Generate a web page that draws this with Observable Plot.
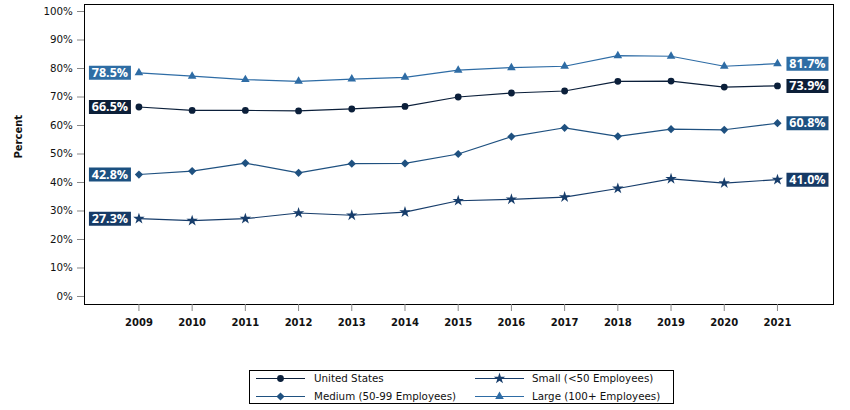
<!DOCTYPE html>
<html>
<head>
<meta charset="utf-8">
<script src="https://cdn.jsdelivr.net/npm/d3@7"></script>
<script src="https://cdn.jsdelivr.net/npm/@observablehq/plot@0.6"></script>
<style>
  body { margin: 0; background: #fff; }
  #wrap { position: relative; width: 850px; height: 410px; font-family: "DejaVu Sans", sans-serif; }
  #legend { position: absolute; left: 249px; top: 370px; width: 425px; height: 34px; border: 1px solid #000; box-sizing: border-box; }
  .item { position: absolute; font-size: 10.3px; color: #111; white-space: nowrap; }
  .item svg { position: absolute; left: 0; top: 0; }
  .item span { position: absolute; top: 0; line-height: 12px; }
</style>
</head>
<body>
<div id="wrap"><div id="chart"></div><div id="legend"></div></div>
<script>
const years = [2009, 2010, 2011, 2012, 2013, 2014, 2015, 2016, 2017, 2018, 2019, 2020, 2021];
const unitedStates = [66.5, 65.3, 65.3, 65.1, 65.8, 66.7, 70.0, 71.4, 72.1, 75.5, 75.6, 73.5, 73.9];
const small = [27.3, 26.6, 27.3, 29.3, 28.5, 29.6, 33.6, 34.1, 34.9, 37.9, 41.3, 39.8, 41.0];
const medium = [42.8, 44.0, 46.8, 43.4, 46.6, 46.7, 50.0, 56.1, 59.2, 56.2, 58.7, 58.5, 60.8];
const large = [78.5, 77.3, 76.1, 75.5, 76.3, 76.9, 79.4, 80.3, 80.8, 84.5, 84.3, 80.8, 81.7];
const seriesNames = ["United States", "Small (<50 Employees)", "Medium (50-99 Employees)", "Large (100+ Employees)"];
const yTicks = [0, 10, 20, 30, 40, 50, 60, 70, 80, 90, 100];

const seriesValues = [unitedStates, small, medium, large];
const colors = ["#0b1f3a", "#173d6b", "#1f5180", "#2e6ca5"];
const labelColors = ["#0c1f38", "#163a66", "#1b5080", "#2e6da4"];
const symbols = ["circle", "star", "diamond2", "triangle"];
const radii = [3.4, 3.6, 3.7, 3.2];

const rows = [];
seriesNames.forEach((s, i) => years.forEach((y, j) => rows.push({series: s, year: y, value: seriesValues[i][j], k: i})));
const first = rows.filter(d => d.year === years[0]);
const last = rows.filter(d => d.year === years[years.length - 1]);

const labelBox = {draw(ctx) { ctx.rect(-21, -7, 42, 14); }};
const fmt = v => v.toFixed(1) + "%";

const marks = [
  Plot.frame({stroke: "#000", strokeWidth: 1}),
  Plot.axisY({ticks: yTicks, tickFormat: d => d + "%", tickSize: 7, tickPadding: 4.6, stroke: "#888", fontSize: 10.3, fill: "#111", label: null}),
  Plot.axisX({ticks: years, tickFormat: d => String(d), tickSize: 7, tickPadding: 7, stroke: "#888", fontSize: 10, fontWeight: "bold", fill: "#111", label: null}),
  Plot.text(["Percent"], {frameAnchor: "left", dx: -66, dy: 4, rotate: -90, fontWeight: "bold", fontSize: 10, fill: "#111"})
];
seriesNames.forEach((s, i) => {
  const data = rows.filter(d => d.k === i);
  marks.push(Plot.line(data, {x: "year", y: "value", stroke: colors[i], strokeWidth: 1.2}));
  marks.push(Plot.dot(data, {x: "year", y: "value", symbol: () => symbols[i], r: radii[i], fill: colors[i], stroke: "none"}));
});
marks.push(
  Plot.dot(first, {x: "year", y: "value", symbol: labelBox, r: 5, fill: d => labelColors[d.k], dx: -29}),
  Plot.text(first, {x: "year", y: "value", text: d => fmt(d.value), dx: -29, fill: "#fff", fontWeight: "bold", fontSize: 12.5, fontFamily: "Open Sans"}),
  Plot.dot(last, {x: "year", y: "value", symbol: labelBox, r: 5, fill: d => labelColors[d.k], dx: 30}),
  Plot.text(last, {x: "year", y: "value", text: d => fmt(d.value), dx: 30, fill: "#fff", fontWeight: "bold", fontSize: 12.5, fontFamily: "Open Sans"})
);

const chart = Plot.plot({
  width: 850,
  height: 362,
  marginLeft: 84,
  marginRight: 17,
  marginTop: 4,
  marginBottom: 58,
  style: {fontFamily: "DejaVu Sans", background: "#fff", overflow: "visible"},
  x: {type: "linear", domain: [2007.977, 2022.053]},
  y: {domain: [-2.81, 102.46]},
  color: {type: "identity"},
  symbol: {type: "identity"},
  marks
});
document.getElementById("chart").appendChild(chart);

// legend
const legend = d3.select("#legend");
const pos = [[6, 0, 64], [225, 0, 282], [6, 18, 64], [225, 18, 282]];
const symMap = {circle: d3.symbolCircle, star: d3.symbolStar, diamond2: d3.symbolDiamond2, triangle: d3.symbolTriangle};
[0, 1, 2, 3].forEach((i, n) => {
  const [lx, ly, tx] = pos[n];
  const it = legend.append("div").attr("class", "item").style("left", lx + "px").style("top", (ly + 1) + "px").style("width", "220px").style("height", "14px");
  const svg = it.append("svg").attr("width", 56).attr("height", 14);
  svg.append("line").attr("x1", 0).attr("x2", 49).attr("y1", 6.5).attr("y2", 6.5).attr("stroke", colors[i]).attr("stroke-width", 1.2);
  svg.append("path").attr("transform", "translate(24.5,6.5)").attr("d", d3.symbol(symMap[symbols[i]], Math.PI * radii[i] * radii[i])()).attr("fill", colors[i]);
  it.append("span").style("left", (tx - lx) + "px").text(seriesNames[i]);
});
</script>
</body>
</html>
